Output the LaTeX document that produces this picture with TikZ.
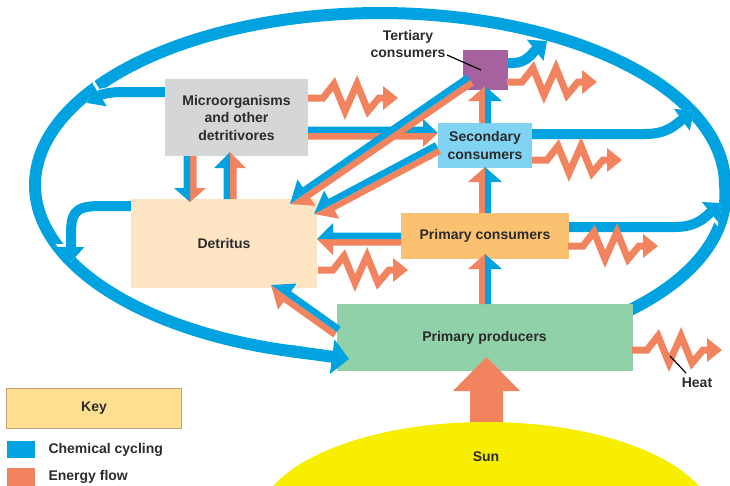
\documentclass[tikz,border=0pt]{standalone}
\usepackage{fontspec}
\setmainfont{Liberation Sans}
\usetikzlibrary{arrows.meta,calc}
\definecolor{cblue}{HTML}{00A3E0}
\definecolor{corange}{HTML}{F2835F}
\definecolor{cgray}{HTML}{D5D6D8}
\definecolor{cdet}{HTML}{FDE4C3}
\definecolor{cpurple}{HTML}{A5629F}
\definecolor{csec}{HTML}{80D3F3}
\definecolor{cprim}{HTML}{FAC171}
\definecolor{cprod}{HTML}{91D1A9}
\definecolor{ckey}{HTML}{FDDF8F}
\definecolor{ckeyb}{HTML}{C9A27C}
\definecolor{csun}{HTML}{F8EE00}
\definecolor{ctext}{HTML}{2B2B2B}
% paired (blue/orange) band arrow: #1 start, #2 end, #3 left colour, #4 right colour,
% #5 half shaft width, #6 half head width, #7 head length
\newcommand\duo[7]{%
  \path let \p1=(#1),\p2=(#2),\n1={atan2(\y2-\y1,\x2-\x1)},\n2={veclen(\x2-\x1,\y2-\y1)} in
    \pgfextra{\pgfmathparse{\n1}\xdef\duoang{\pgfmathresult}\pgfmathparse{\n2}\xdef\duolen{\pgfmathresult}};
  \begin{scope}[shift={(#1)},rotate=\duoang]
    \fill[#3] (0,0) -- (0,-#5) -- ({\duolen-#7},-#5) -- ({\duolen-#7},-#6) -- (\duolen,0) -- cycle;
    \fill[#4] (0,0) -- (0,#5) -- ({\duolen-#7},#5) -- ({\duolen-#7},#6) -- (\duolen,0) -- cycle;
  \end{scope}}
% zig-zag heat arrow from coordinate #1
\newcommand\zig[1]{%
  \begin{scope}[shift={(#1)}]
    \draw[heatline] (0,0) -- (15,0) -- (26,-14) -- (37,13) -- (49,-14) -- (60,13) -- (71,0) -- (90,0);
  \end{scope}}
\tikzset{
  lbl/.style={font=\fontsize{14}{17.5}\selectfont\bfseries, text=ctext, align=center},
  boxn/.style={lbl, inner sep=0pt, draw=none},
  heatline/.style={corange, line width=7pt, line join=miter, -{Triangle[width=23pt,length=15pt]}},
  cyc/.style={cblue, line width=10pt, -{Triangle[width=26pt,length=15pt]}},
  cycw/.style={white, line width=11.5pt, -{Triangle[width=30pt,length=18pt]}},
}
\begin{document}
\begin{tikzpicture}[x=1pt,y=-1pt]
\useasboundingbox (0,0) rectangle (730,485);

% big cycling ellipse (slightly bulging at the lower right)
\draw[cblue,line width=12pt] plot[domain=-257:50,samples=240,variable=\t]
  ({380+345*cos(\t)+18*sin(\t)*(\t>0)},{185+172*sin(\t)});

% blue-only cycling arrows to the ellipse
\coordinate (a0) at (165,92);  \coordinate (a1) at (87,103);
\coordinate (b0) at (131,206); \coordinate (b1) at (71,262);
\coordinate (c0) at (507,63);  \coordinate (c1) at (547,41);
\coordinate (d0) at (532,134); \coordinate (d1) at (694,111);
\coordinate (e0) at (568,227); \coordinate (e1) at (722,203);
\foreach \s in {cycw,cyc}{
  \draw[\s] (a0) -- (122,92) .. controls (106,92) and (98,96) .. (a1);
  \draw[\s] (b0) -- (100,206) .. controls (72,206) and (71,215) .. (71,238) -- (b1);
  \draw[\s] (c0) -- (513,63) .. controls (527,63) and (533,52) .. (c1);
  \draw[\s] (d0) -- (645,134) .. controls (668,134) and (676,124) .. (d1);
  \draw[\s] (e0) -- (675,227) .. controls (698,227) and (706,216) .. (e1);
}

% boxes
\node[boxn, fill=cgray, minimum width=143pt, minimum height=77pt] (mic) at (236.5,117.5) {Microorganisms\\and other\\detritivores};
\node[boxn, fill=cdet, minimum width=186pt, minimum height=89pt] (det) at (224,243.5) {Detritus};
\node[boxn, fill=cpurple, minimum width=45pt, minimum height=40pt] (ter) at (485.5,70) {};
\node[boxn, fill=csec, minimum width=94pt, minimum height=45pt] (sec) at (485,145.5) {Secondary\\consumers};
\node[boxn, fill=cprim, minimum width=168pt, minimum height=46pt] (pc) at (485,236) {Primary consumers};
\node[boxn, fill=cprod, minimum width=296pt, minimum height=67pt] (pp) at (484.5,337.5) {Primary producers};

% tertiary label
\node[lbl] (terl) at (408,44) {Tertiary\\consumers};
\coordinate (tl0) at (447,55); \coordinate (tl1) at (481,70);
\draw[black,line width=1.2pt] (tl0) -- (tl1);

% end of ellipse with arrow into producers
\coordinate (el0) at ({380+345*cos(105)},{185+172*sin(105)});
\coordinate (el1) at (349,359);
\draw[cblue,line width=12pt,-{Triangle[width=34pt,length=17pt]}] (el0) -- (el1);

% paired arrows
\coordinate (p1a) at (190,156); \coordinate (p1b) at (190,202);
\coordinate (p2a) at (230,199); \coordinate (p2b) at (230,152);
\coordinate (p3a) at (308,133); \coordinate (p3b) at (438,133);
\coordinate (p4a) at (470,80);  \coordinate (p4b) at (290,204);
\coordinate (p5a) at (438,148); \coordinate (p5b) at (314,214);
\coordinate (p6a) at (401,239); \coordinate (p6b) at (317,239);
\coordinate (p7a) at (337,332); \coordinate (p7b) at (271,285);
\coordinate (p8a) at (485,304); \coordinate (p8b) at (485,254);
\coordinate (p9a) at (485,213); \coordinate (p9b) at (485,167);
\coordinate (p10a) at (485,123); \coordinate (p10b) at (485,86);
\duo{p1a}{p1b}{corange}{cblue}{6.5}{16}{14}
\duo{p2a}{p2b}{cblue}{corange}{6.5}{16}{16}
\duo{p3a}{p3b}{cblue}{corange}{6.5}{14}{15}
\duo{p4a}{p4b}{corange}{cblue}{6.5}{16}{20}
\duo{p5a}{p5b}{corange}{cblue}{6.5}{16}{20}
\duo{p6a}{p6b}{corange}{cblue}{6.5}{16}{16}
\duo{p7a}{p7b}{corange}{cblue}{6.5}{16}{20}
\duo{p8a}{p8b}{corange}{cblue}{6}{17}{15}
\duo{p9a}{p9b}{corange}{cblue}{6}{17}{15}
\duo{p10a}{p10b}{corange}{cblue}{6}{17}{15}

% heat (energy loss) arrows
\coordinate (z1) at (308,98);
\coordinate (z2) at (507,82);
\coordinate (z3) at (532,160);
\coordinate (z4) at (568,246);
\coordinate (z5) at (318,270);
\coordinate (z6) at (632,350);
\zig{z1}\zig{z2}\zig{z3}\zig{z4}\zig{z5}\zig{z6}
\node[lbl] (heat) at (697,383) {Heat};
\coordinate (h0) at (670,356); \coordinate (h1) at (686,373);
\draw[black,line width=1.2pt] (h0) -- (h1);

% sunlight arrow and sun
\fill[corange] (470,430) -- (470,391) -- (453,391) -- (486.5,357) -- (520,391) -- (503,391) -- (503,430) -- cycle;
\begin{scope}
  \clip (0,0) rectangle (730,485);
  \fill[csun] (486,522) ellipse [x radius=228pt, y radius=100pt];
\end{scope}
\node[lbl] (sun) at (486,457) {Sun};

% key
\node[boxn, fill=ckey, draw=ckeyb, line width=1.5pt, minimum width=175pt, minimum height=40pt] (key) at (94,408.5) {Key};
\fill[cblue] (7,441) rectangle (35,458);
\node[lbl, anchor=west] (kc) at (45,450) {Chemical cycling};
\fill[corange] (7,468) rectangle (35,486);
\node[lbl, anchor=west] (ke) at (45,477) {Energy flow};
\end{tikzpicture}
\end{document}
